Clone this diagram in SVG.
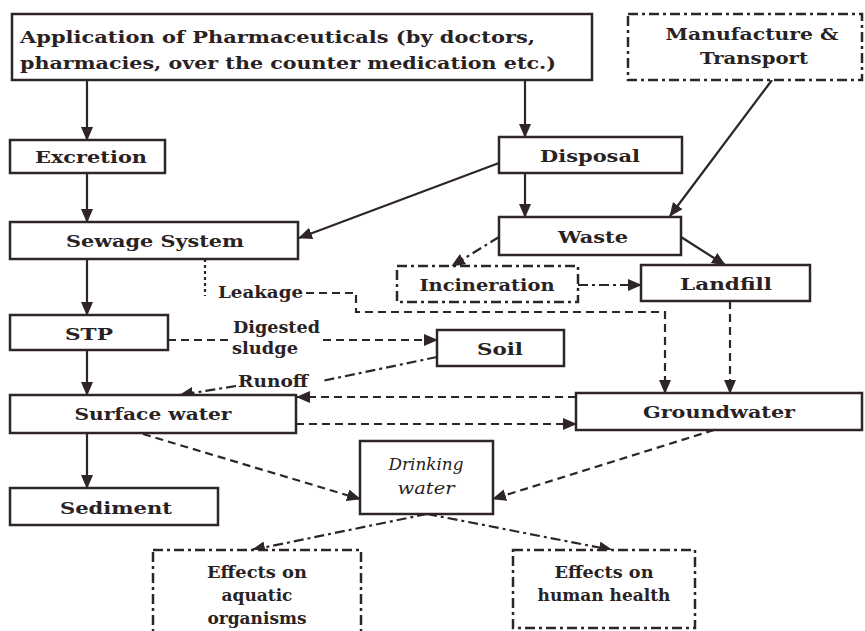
<svg xmlns="http://www.w3.org/2000/svg" width="865" height="631" viewBox="0 0 865 631">
<defs>
<style>
.box{fill:#fff;stroke:#2e2626;stroke-width:2.5}
.dd{stroke-dasharray:10,4,3,4}
.t{font-family:"DejaVu Serif","Liberation Serif",serif;font-size:17px;font-weight:bold;fill:#2a2222;text-anchor:middle}
.tl{text-anchor:start}
.it{font-style:italic;font-weight:normal}
.e{fill:none;stroke:#2e2626;stroke-width:2.2}
.dash{stroke-dasharray:8,5}
.dot{stroke-dasharray:3,3}
</style>
<marker id="ah" markerWidth="14" markerHeight="12" refX="13" refY="6" orient="auto" markerUnits="userSpaceOnUse">
<path d="M0,0 L14,6 L0,12 z" fill="#2e2626"/>
</marker>
</defs>
<rect width="865" height="631" fill="#fff"/>

<g id="connectors">
<path class="e" d="M87,80 V140" marker-end="url(#ah)"/>
<path class="e" d="M525,80 V137" marker-end="url(#ah)"/>
<path class="e" d="M87,173 V222" marker-end="url(#ah)"/>
<path class="e" d="M499,163 L299,238" marker-end="url(#ah)"/>
<path class="e" d="M525,173 V217" marker-end="url(#ah)"/>
<path class="e" d="M772,80 L670,216" marker-end="url(#ah)"/>
<path class="e dd" d="M499,237 L452,266" marker-end="url(#ah)"/>
<path class="e" d="M681,237 L725,265" marker-end="url(#ah)"/>
<path class="e dd" d="M578,285 L641,285" marker-end="url(#ah)"/>
<path class="e" d="M87,259 V315" marker-end="url(#ah)"/>
<path class="e dot" d="M205,259 V296"/>
<path class="e dash" d="M306,293 H356 V312 H665 V393" marker-end="url(#ah)"/>
<path class="e dash" d="M730,301 V393" marker-end="url(#ah)"/>
<path class="e dash" d="M168,340 H230"/>
<path class="e dash" d="M323,340 H437" marker-end="url(#ah)"/>
<path class="e dd" d="M437,357 L322,381"/>
<path class="e dd" d="M236,386 L180,395" marker-end="url(#ah)"/>
<path class="e dash" d="M576,397 H297" marker-end="url(#ah)"/>
<path class="e dash" d="M296,424 H576" marker-end="url(#ah)"/>
<path class="e" d="M87,350 V395" marker-end="url(#ah)"/>
<path class="e" d="M87,433 V488" marker-end="url(#ah)"/>
<path class="e dash" d="M143,434 L360,499" marker-end="url(#ah)"/>
<path class="e dash" d="M714,430 L493,499" marker-end="url(#ah)"/>
<path class="e dd" d="M427,514 L252,550" marker-end="url(#ah)"/>
<path class="e dd" d="M427,514 L612,550" marker-end="url(#ah)"/>
<text class="t tl" x="218" y="298" textLength="85" lengthAdjust="spacingAndGlyphs">Leakage</text>
<text class="t tl" x="233" y="333" textLength="87" lengthAdjust="spacingAndGlyphs">Digested</text>
<text class="t tl" x="232" y="354" textLength="66" lengthAdjust="spacingAndGlyphs">sludge</text>
<text class="t tl" x="238" y="387" textLength="70" lengthAdjust="spacingAndGlyphs">Runoff</text>
</g>

<g id="application">
<rect class="box" x="12" y="14" width="580" height="66"/>
<text class="t tl" x="20" y="43" textLength="515" lengthAdjust="spacingAndGlyphs">Application of Pharmaceuticals (by doctors,</text>
<text class="t tl" x="20" y="69" textLength="536" lengthAdjust="spacingAndGlyphs">pharmacies, over the counter medication etc.)</text>
</g>
<g id="manufacture">
<rect class="box dd" x="628" y="14" width="234" height="66"/>
<text class="t" x="752" y="40" textLength="173" lengthAdjust="spacingAndGlyphs">Manufacture &amp;</text>
<text class="t" x="754" y="64" textLength="108" lengthAdjust="spacingAndGlyphs">Transport</text>
</g>
<g id="excretion">
<rect class="box" x="10" y="140" width="155" height="33"/>
<text class="t" x="91" y="163" textLength="112" lengthAdjust="spacingAndGlyphs">Excretion</text>
</g>
<g id="disposal">
<rect class="box" x="499" y="137" width="183" height="36"/>
<text class="t" x="590" y="162" textLength="100" lengthAdjust="spacingAndGlyphs">Disposal</text>
</g>
<g id="sewage">
<rect class="box" x="10" y="222" width="288" height="37"/>
<text class="t" x="155" y="247" textLength="178" lengthAdjust="spacingAndGlyphs">Sewage System</text>
</g>
<g id="waste">
<rect class="box" x="499" y="217" width="182" height="38"/>
<text class="t" x="593" y="243" textLength="70" lengthAdjust="spacingAndGlyphs">Waste</text>
</g>
<g id="incineration">
<rect class="box dd" x="397" y="266" width="181" height="36"/>
<text class="t" x="487" y="291" textLength="135" lengthAdjust="spacingAndGlyphs">Incineration</text>
</g>
<g id="landfill">
<rect class="box" x="641" y="265" width="169" height="36"/>
<text class="t" x="726" y="290" textLength="92" lengthAdjust="spacingAndGlyphs">Landfill</text>
</g>
<g id="stp">
<rect class="box" x="10" y="315" width="158" height="35"/>
<text class="t" x="89" y="340" textLength="48" lengthAdjust="spacingAndGlyphs">STP</text>
</g>
<g id="soil">
<rect class="box" x="437" y="330" width="127" height="36"/>
<text class="t" x="500" y="355" textLength="46" lengthAdjust="spacingAndGlyphs">Soil</text>
</g>
<g id="surface-water">
<rect class="box" x="10" y="395" width="286" height="38"/>
<text class="t" x="153" y="420" textLength="157" lengthAdjust="spacingAndGlyphs">Surface water</text>
</g>
<g id="groundwater">
<rect class="box" x="576" y="393" width="286" height="37"/>
<text class="t" x="719" y="418" textLength="152" lengthAdjust="spacingAndGlyphs">Groundwater</text>
</g>
<g id="drinking-water">
<rect class="box" x="360" y="441" width="133" height="73"/>
<text class="t it" x="426" y="470" textLength="75" lengthAdjust="spacingAndGlyphs">Drinking</text>
<text class="t it" x="426" y="494" textLength="57" lengthAdjust="spacingAndGlyphs">water</text>
</g>
<g id="sediment">
<rect class="box" x="10" y="488" width="208" height="37"/>
<text class="t" x="116" y="514" textLength="112" lengthAdjust="spacingAndGlyphs">Sediment</text>
</g>
<g id="effects-aquatic">
<rect class="box dd" x="153" y="550" width="208" height="92"/>
<text class="t" x="257" y="578" textLength="100" lengthAdjust="spacingAndGlyphs">Effects on</text>
<text class="t" x="257" y="601">aquatic</text>
<text class="t" x="257" y="624">organisms</text>
</g>
<g id="effects-human">
<rect class="box dd" x="513" y="550" width="182" height="78"/>
<text class="t" x="604" y="578" textLength="99" lengthAdjust="spacingAndGlyphs">Effects on</text>
<text class="t" x="604" y="601">human health</text>
</g>
</svg>
